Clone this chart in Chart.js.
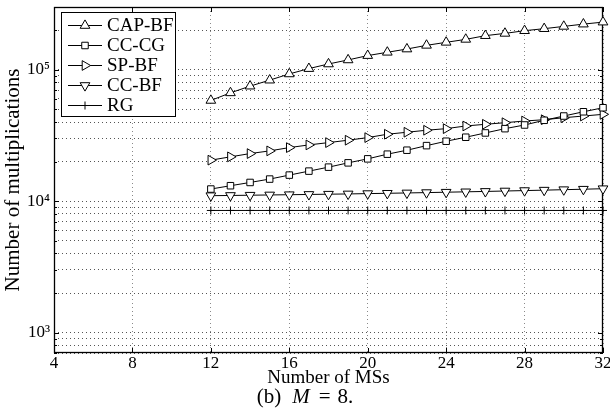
<!DOCTYPE html>
<html>
<head>
<meta charset="utf-8">
<script src="https://cdn.jsdelivr.net/npm/chart.js@4.4.1/dist/chart.umd.min.js"></script>
<style>
  html, body { margin: 0; padding: 0; background: #fff; }
  canvas { display: block; }
</style>
</head>
<body>
<canvas id="chart" width="610" height="419"></canvas>
<script>
// number of MSs (x)
const msCounts = [12, 13, 14, 15, 16, 17, 18, 19, 20, 21, 22, 23, 24, 25, 26, 27, 28, 29, 30, 31, 32];

// number of multiplications
const capBf = [58400, 66700, 75000, 83300, 92900, 102000, 110600, 118700, 128100, 135700, 143700,
               153300, 161600, 170200, 181600, 189000, 198100, 205200, 213600, 222300, 230200];
const ccCg  = [12370, 13110, 13880, 14730, 15790, 16930, 18150, 19570, 20990, 22780, 24420,
               26460, 28580, 30650, 33040, 35620, 37980, 41240, 44440, 47880, 51370];
const spBf  = [20520, 21740, 23020, 24130, 25560, 26790, 27900, 29090, 30450, 32300, 33450,
               34640, 35620, 37330, 38450, 39540, 40730, 41670, 43140, 44440, 45770];
const ccBf  = [11010, 11050, 11100, 11150, 11200, 11250, 11300, 11350, 11420, 11480, 11550,
               11620, 11700, 11780, 11860, 11950, 12040, 12130, 12230, 12330, 12440];
const rg    = [8500, 8500, 8500, 8500, 8500, 8500, 8500, 8500, 8500, 8500, 8500,
               8500, 8500, 8500, 8500, 8500, 8500, 8500, 8500, 8500, 8500];

const seriesNames = ['CAP-BF', 'CC-CG', 'SP-BF', 'CC-BF', 'RG'];
const xTicks = [4, 8, 12, 16, 20, 24, 28, 32];
const yMin = 700, yMax = 300000;
const decadeLabels = {1000: '10\u00B3', 10000: '10\u2074', 100000: '10\u2075'};

const FONT = "'Liberation Serif', 'Times New Roman', serif";

function pts(vals) {
  return msCounts.map((m, i) => ({x: m, y: vals[i]}));
}
function isDecade(v) {
  const e = Math.log10(v);
  return Math.abs(e - Math.round(e)) < 1e-9;
}

const markers = [
  {pointStyle: 'triangle', rotation: 0, radius: 5.6},
  {pointStyle: 'rect', rotation: 0, radius: 4.6},
  {pointStyle: 'triangle', rotation: 90, radius: 5.6},
  {pointStyle: 'triangle', rotation: 180, radius: 5.6},
  {pointStyle: 'cross', rotation: 0, radius: 4}
];

const allSeries = [capBf, ccCg, spBf, ccBf, rg];
const datasets = allSeries.map((vals, i) => ({
  label: seriesNames[i],
  data: pts(vals),
  borderColor: '#000',
  borderWidth: 1,
  backgroundColor: '#fff',
  pointStyle: markers[i].pointStyle,
  pointRotation: markers[i].rotation,
  pointRadius: markers[i].radius,
  pointBorderColor: '#000',
  pointBackgroundColor: '#fff',
  pointBorderWidth: 1,
  tension: 0,
  clip: false
}));

// frame round the plot plus inward tick marks
const framePlugin = {
  id: 'frame',
  beforeDatasetsDraw(chart) {
    const {ctx, chartArea: a, scales: {x, y}} = chart;
    ctx.save();
    ctx.strokeStyle = '#000';
    ctx.lineWidth = 1;
    ctx.beginPath();
    x.ticks.forEach(t => {
      const px = Math.round(x.getPixelForValue(t.value)) + 0.5;
      ctx.moveTo(px, a.bottom); ctx.lineTo(px, a.bottom - 5);
      ctx.moveTo(px, a.top); ctx.lineTo(px, a.top + 5);
    });
    y.ticks.forEach(t => {
      const py = Math.round(y.getPixelForValue(t.value)) + 0.5;
      const len = isDecade(t.value) ? 5 : 3;
      ctx.moveTo(a.left, py); ctx.lineTo(a.left + len, py);
      ctx.moveTo(a.right, py); ctx.lineTo(a.right - len, py);
    });
    ctx.stroke();
    ctx.lineWidth = 1.3;
    ctx.strokeRect(Math.round(a.left) + 0.5, Math.round(a.top) + 0.5,
                   Math.round(a.width) - 1, Math.round(a.height) - 1);
    ctx.restore();
  }
};

// legend box in the upper left corner of the plot
const legendPlugin = {
  id: 'boxLegend',
  afterDatasetsDraw(chart) {
    const {ctx, chartArea: a} = chart;
    const left = a.left + 7, top = a.top + 5, w = 114, h = 104;
    ctx.save();
    ctx.fillStyle = '#fff';
    ctx.fillRect(left, top, w, h);
    ctx.strokeStyle = '#000';
    ctx.lineWidth = 1;
    ctx.strokeRect(left + 0.5, top + 0.5, w, h);
    ctx.font = '19px ' + FONT;
    ctx.textBaseline = 'middle';
    chart.data.datasets.forEach((ds, i) => {
      const yy = top + 13.5 + i * 20;
      ctx.beginPath();
      ctx.moveTo(left + 7, yy); ctx.lineTo(left + 41, yy);
      ctx.strokeStyle = '#000';
      ctx.stroke();
      ctx.fillStyle = '#fff';
      Chart.helpers.drawPoint(ctx, {
        pointStyle: ds.pointStyle, rotation: ds.pointRotation,
        radius: ds.pointRadius, borderWidth: 1
      }, left + 24, yy);
      ctx.fillStyle = '#000';
      ctx.fillText(ds.label, left + 46, yy + 1);
    });
    ctx.restore();
  }
};

// caption under the axis: (b) M = 8.
const captionPlugin = {
  id: 'caption',
  afterDraw(chart) {
    const {ctx} = chart;
    const parts = [
      {t: '(b)', f: '21px ' + FONT, gap: 11},
      {t: 'M', f: 'italic 21px ' + FONT, gap: 9},
      {t: '=', f: '21px ' + FONT, gap: 7},
      {t: '8.', f: '21px ' + FONT, gap: 0}
    ];
    ctx.save();
    let total = 0;
    parts.forEach(p => { ctx.font = p.f; p.w = ctx.measureText(p.t).width; total += p.w + p.gap; });
    let xx = chart.width / 2 - total / 2;
    ctx.fillStyle = '#000';
    ctx.textBaseline = 'middle';
    parts.forEach(p => { ctx.font = p.f; ctx.fillText(p.t, xx, 397); xx += p.w + p.gap; });
    ctx.restore();
  }
};

new Chart(document.getElementById('chart'), {
  type: 'line',
  data: {datasets: datasets},
  plugins: [framePlugin, legendPlugin, captionPlugin],
  options: {
    responsive: false,
    animation: false,
    layout: {padding: {left: 0, right: 7, top: 7, bottom: 29}},
    plugins: {legend: {display: false}, tooltip: {enabled: false}},
    scales: {
      x: {
        type: 'linear',
        min: 4,
        max: 32,
        afterFit: s => { s.height = 37; s.paddingLeft = 0; s.paddingRight = 0; },
        afterBuildTicks: s => { s.ticks = xTicks.map(v => ({value: v})); },
        ticks: {color: '#000', font: {family: FONT, size: 17}, padding: 0, maxRotation: 0, autoSkip: false},
        grid: {color: '#8a8a8a', lineWidth: 1, drawTicks: false},
        border: {display: false, dash: [1, 3]},
        title: {display: true, text: 'Number of MSs', color: '#000',
                font: {family: FONT, size: 19}, padding: {top: 0, bottom: 1}}
      },
      y: {
        type: 'logarithmic',
        min: yMin,
        max: yMax,
        afterFit: s => { s.width = 54; s.paddingTop = 0; s.paddingBottom = 0; },
        afterBuildTicks: s => {
          const list = [];
          for (let e = 2; e <= 5; e++) {
            for (let m = 1; m <= 9; m++) {
              const v = m * Math.pow(10, e);
              if (v >= yMin && v <= yMax) list.push({value: v});
            }
          }
          s.ticks = list;
        },
        ticks: {
          color: '#000', font: {family: FONT, size: 17}, padding: 4, autoSkip: false,
          callback: v => decadeLabels[v] || ''
        },
        grid: {color: '#555', lineWidth: 1, drawTicks: false},
        border: {display: false, dash: [1, 3]},
        title: {display: true, text: 'Number of multiplications', color: '#000',
                font: {family: FONT, size: 21}, padding: {top: 1, bottom: 0}}
      }
    }
  }
});
</script>
</body>
</html>
